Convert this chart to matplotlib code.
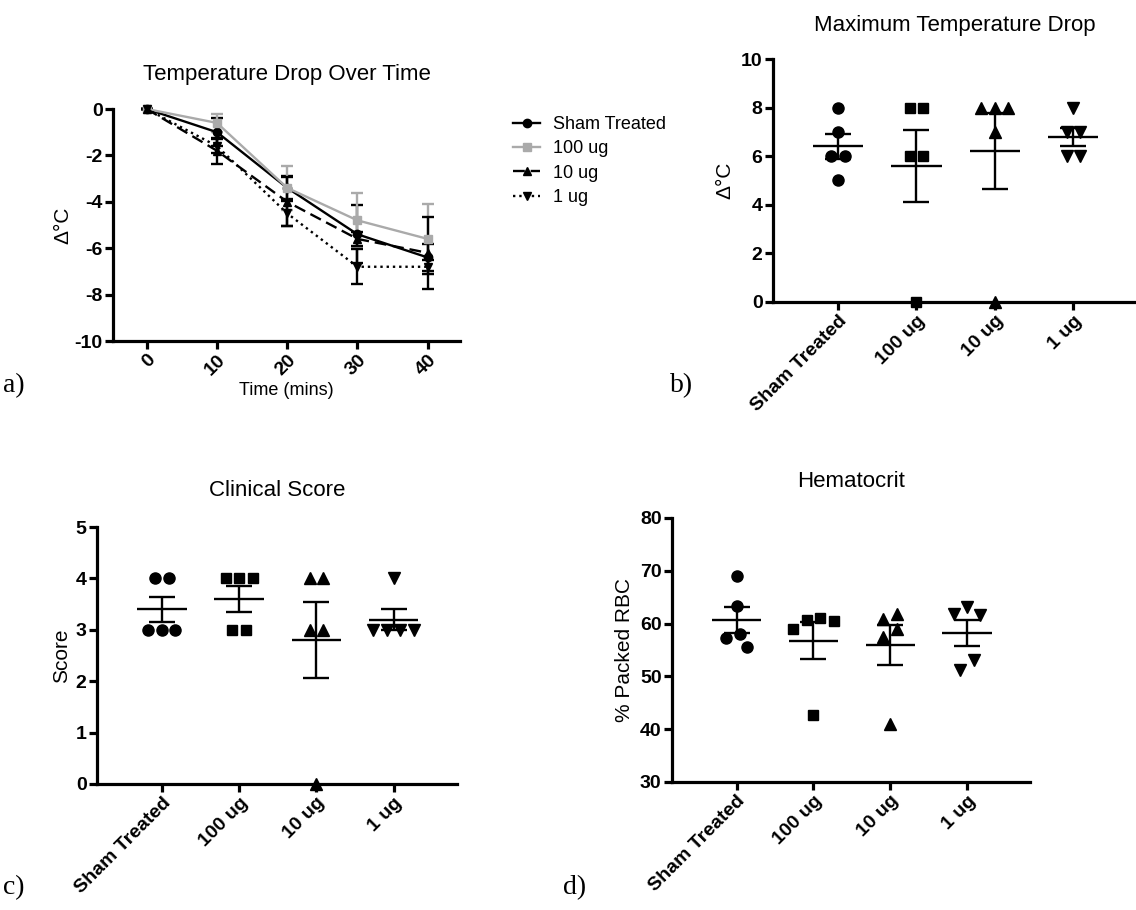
import numpy as np
import matplotlib
matplotlib.use("Agg")
from matplotlib import pyplot as plt

plt.rcParams['font.family'] = ['Liberation Sans', 'DejaVu Sans']
plt.rcParams['axes.unicode_minus'] = False

# ---- data ----
groups = ["Sham Treated", "100 ug", "10 ug", "1 ug"]

time_mins = [0, 10, 20, 30, 40]
drop_mean = {
    "Sham Treated": [0, -1.0, -3.4, -5.4, -6.4],
    "100 ug": [0, -0.6, -3.4, -4.8, -5.6],
    "10 ug": [0, -1.8, -4.0, -5.6, -6.2],
    "1 ug": [0, -1.6, -4.5, -6.8, -6.8],
}
drop_sem = {
    "Sham Treated": [0, 0.6, 0.5, 1.25, 0.6],
    "100 ug": [0, 0.4, 0.95, 1.2, 1.5],
    "10 ug": [0, 0.55, 1.05, 0.3, 1.55],
    "1 ug": [0, 0.3, 0.55, 0.75, 0.3],
}

max_drop = [
    [8, 7, 6, 6, 5],
    [8, 8, 6, 6, 0],
    [8, 8, 8, 7, 0],
    [8, 7, 7, 6, 6],
]
clinical = [
    [4, 4, 3, 3, 3],
    [4, 4, 4, 3, 3],
    [4, 4, 3, 3, 0],
    [4, 3, 3, 3, 3],
]
hematocrit = [
    [69.0, 63.4, 58.0, 57.2, 55.6],
    [61.0, 60.4, 59.0, 60.6, 42.7],
    [60.8, 61.8, 58.9, 57.5, 41.0],
    [61.8, 61.7, 63.2, 53.1, 51.2],
]

markers = ['o', 's', '^', 'v']
msizes = [8.0, 7.4, 8.5, 8.5]

W, H = 1136, 910
fig = plt.figure(figsize=(W / 100, H / 100), dpi=100)


def px_axes(l, t, r, b):
    return fig.add_axes([l / W, 1 - b / H, (r - l) / W, (b - t) / H])


def style_axes(ax):
    for s in ['top', 'right']:
        ax.spines[s].set_visible(False)
    for s in ['left', 'bottom']:
        ax.spines[s].set_linewidth(2.3)
    ax.tick_params(direction='out', length=5.5, width=2.3, labelsize=14, pad=2)
    for lab in ax.get_xticklabels() + ax.get_yticklabels():
        lab.set_fontweight('bold')


def swarm(vals, ppu_y, ppu_x, d=13.5):
    # simple beeswarm: equal values spread symmetrically, then pushed sideways
    vals = np.asarray(vals, float)
    offs = np.zeros(len(vals))
    placed = []
    for v in sorted(set(vals), reverse=True):
        idx = np.where(vals == v)[0]
        base = (np.arange(len(idx)) - (len(idx) - 1) / 2) * d
        for k in [0, -1, 1, -2, 2, -3, 3, -4, 4]:
            xs = base + k * d / 2
            ok = all(np.hypot(x - px, v * ppu_y - py) >= d * 0.95
                     for x in xs for px, py in placed)
            if ok:
                break
        for i, x in zip(idx, xs):
            offs[i] = x
            placed.append((x, v * ppu_y))
    # re-centre each run of overlapping points around the category centre
    order = np.argsort(-vals)
    run = [order[0]]
    for j in list(order[1:]) + [None]:
        if j is not None and (vals[run[-1]] - vals[j]) * ppu_y < d:
            run.append(j)
            continue
        shift = (offs[run].min() + offs[run].max()) / 2
        offs[run] -= shift
        if j is not None:
            run = [j]
    return offs / ppu_x


def scatter_panel(ax, data, ppu_y, ppu_x):
    for i, vals in enumerate(data):
        offs = swarm(vals, ppu_y, ppu_x)
        ax.plot(i + offs, vals, linestyle='none', marker=markers[i],
                ms=msizes[i], color='black', clip_on=False, zorder=3)
        m = np.mean(vals)
        sem = np.std(vals, ddof=1) / np.sqrt(len(vals))
        ax.hlines(m, i - 0.32, i + 0.32, color='black', lw=1.7, zorder=4)
        ax.errorbar(i, m, yerr=sem, color='black', lw=1.7, capsize=9.5,
                    capthick=1.7, zorder=4)
    ax.set_xticks(range(len(groups)))
    ax.set_xticklabels(groups, rotation=45, ha='right', rotation_mode='anchor')
    ax.set_xlim(-0.84, 3.82)


# ---- a) temperature drop over time ----
ax_a = px_axes(113, 109, 460, 341)
line_styles = {
    "Sham Treated": dict(color='black', ls='-', marker='o', ms=6),
    "100 ug": dict(color='#aaaaaa', ls='-', marker='s', ms=6),
    "10 ug": dict(color='black', ls=(0, (5, 2.5)), marker='^', ms=6),
    "1 ug": dict(color='black', ls=':', marker='v', ms=6),
}
for g in groups:
    st = line_styles[g]
    ax_a.errorbar(time_mins, drop_mean[g], yerr=drop_sem[g], color=st['color'],
                  ls=st['ls'], marker=st['marker'], ms=st['ms'], lw=1.7,
                  capsize=4, capthick=1.7, elinewidth=1.7, label=g, clip_on=False)
ax_a.set_xlim(-4.8, 44.6)
ax_a.set_ylim(-10, 0)
ax_a.set_yticks(range(-10, 1, 2))
ax_a.set_xticks(time_mins)
ax_a.set_xticklabels([str(t) for t in time_mins], rotation=45, ha='right',
                     rotation_mode='anchor')
ax_a.set_title("Temperature Drop Over Time", fontsize=16, pad=21)
ax_a.set_ylabel("Δ°C", fontsize=15)
ax_a.yaxis.set_label_coords(-0.118, 0.5)
ax_a.set_xlabel("Time (mins)", fontsize=13, labelpad=2)
handles, labels = ax_a.get_legend_handles_labels()
handles = [h[0] for h in handles]
fig.legend(handles, labels, loc='upper left', bbox_to_anchor=(497 / W, 1 - 100 / H),
           frameon=False, fontsize=13, handlelength=1.5, handletextpad=0.7,
           labelspacing=0.4)
style_axes(ax_a)

# ---- b) maximum temperature drop ----
ax_b = px_axes(773, 59, 1136, 302)
scatter_panel(ax_b, max_drop, 24.3, 78.3)
ax_b.set_ylim(0, 10)
ax_b.set_yticks(range(0, 11, 2))
ax_b.set_xlim(-0.83, 3.8)
ax_b.set_title("Maximum Temperature Drop", fontsize=16, pad=20)
ax_b.set_ylabel("Δ°C", fontsize=15)
ax_b.yaxis.set_label_coords(-0.107, 0.5)
style_axes(ax_b)

# ---- c) clinical score ----
ax_c = px_axes(97, 527, 457, 784)
scatter_panel(ax_c, clinical, 51.4, 77.0)
ax_c.set_ylim(0, 5)
ax_c.set_yticks(range(0, 6))
ax_c.set_title("Clinical Score", fontsize=16, pad=22)
ax_c.set_ylabel("Score", fontsize=15)
ax_c.yaxis.set_label_coords(-0.072, 0.5)
style_axes(ax_c)

# ---- d) hematocrit ----
ax_d = px_axes(672, 518, 1030, 782)
scatter_panel(ax_d, hematocrit, 5.28, 77.0)
ax_d.set_ylim(30, 80)
ax_d.set_yticks(range(30, 81, 10))
ax_d.set_title("Hematocrit", fontsize=16, pad=22)
ax_d.set_ylabel("% Packed RBC", fontsize=15)
ax_d.yaxis.set_label_coords(-0.106, 0.5)
style_axes(ax_d)

# panel letters
for txt, x, y in [("a)", 3, 386), ("b)", 670, 386), ("c)", 3, 888), ("d)", 563, 888)]:
    fig.text(x / W, 1 - y / H, txt, family='Liberation Serif', fontsize=20,
             va='center', ha='left')

fig.savefig("out.png", dpi=100)
